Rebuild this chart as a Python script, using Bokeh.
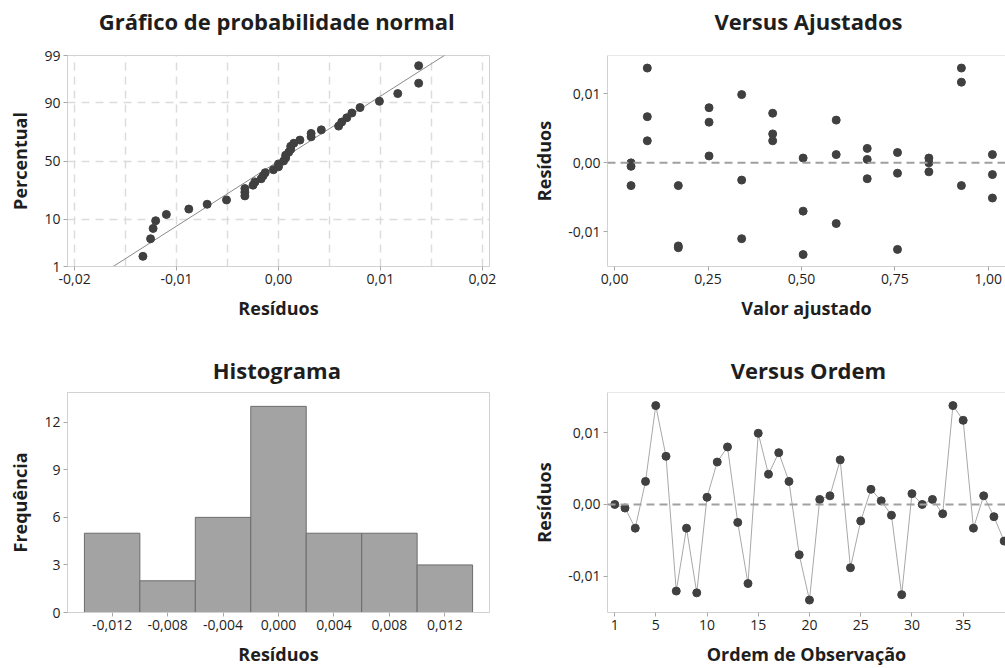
from statistics import NormalDist
import numpy as np
from bokeh.plotting import figure
from bokeh.layouts import gridplot
from bokeh.models import FixedTicker, CustomJSTickFormatter, Span, Range1d
from bokeh.core.properties import value
from bokeh.embed import file_html
from bokeh.resources import INLINE

# ---------------- data ----------------
residuals = [0.0000, -0.0005, -0.0033, 0.0032, 0.01375, 0.0067, -0.01205, -0.0033, -0.0123,
             0.0010, 0.0059, 0.0080, -0.0025, -0.0110, 0.0099, 0.0042, 0.0072, 0.0032,
             -0.0070, -0.0133, 0.0007, 0.0012, 0.0062, -0.0088, -0.0023, 0.0021, 0.0005,
             -0.0015, -0.01255, 0.0015, 0.0000, 0.0007, -0.0013, 0.01375, 0.0117, -0.0033,
             0.0012, -0.0017, -0.0051]
fitted = [0.044, 0.044, 0.044, 0.0875, 0.0875, 0.0875, 0.1705, 0.1705, 0.1705,
          0.2527, 0.2527, 0.2527, 0.340, 0.340, 0.340, 0.423, 0.423, 0.423,
          0.5045, 0.5045, 0.5045, 0.593, 0.593, 0.593, 0.676, 0.676, 0.676,
          0.757, 0.757, 0.757, 0.841, 0.841, 0.841, 0.928, 0.928, 0.928,
          1.011, 1.011, 1.011]
order = list(range(1, 40))
hist_centers = [-0.012, -0.008, -0.004, 0.000, 0.004, 0.008, 0.012]
hist_counts = [5, 2, 6, 13, 5, 5, 3]
prob_ticks = [1, 10, 50, 90, 99]
titles = ["Gráfico de probabilidade normal", "Versus Ajustados", "Histograma", "Versus Ordem"]

FONT = "Open Sans"
TXT = "#1e1e1e"
FRAME = "#d2d2d2"
PT = "#404040"

nd = NormalDist()


def fmt(dec):
    return CustomJSTickFormatter(code="return tick.toFixed(%d).replace('.', ',');" % dec)


def title_fig(text, w, h, cx, cy):
    t = figure(width=w, height=h, x_range=Range1d(0, w), y_range=Range1d(0, h),
               output_backend="svg", toolbar_location=None,
               min_border_left=0, min_border_right=0, min_border_top=0, min_border_bottom=0)
    t.axis.visible = False
    t.grid.visible = False
    t.outline_line_color = None
    t.text(x=[cx], y=[cy], text=[text], text_font=value(FONT), text_font_size=value("22px"),
           text_font_style="bold", text_color=TXT, text_align="center", text_baseline="middle")
    return t


def base(w, h, xr, yr, bl, br, bt, bb, outline=True):
    p = figure(width=w, height=h, x_range=xr, y_range=yr,
               output_backend="svg", toolbar_location=None,
               min_border_left=bl, min_border_right=br, min_border_top=bt, min_border_bottom=bb)
    p.outline_line_color = FRAME if outline else None
    p.background_fill_color = "white"
    p.border_fill_color = "white"
    for ax in (p.xaxis[0], p.yaxis[0]):
        ax.axis_line_color = FRAME
        ax.major_tick_line_color = "#a8a8a8"
        ax.major_tick_out = 4
        ax.major_tick_in = 0
        ax.minor_tick_line_color = None
        ax.major_label_text_font = FONT
        ax.major_label_text_font_size = "14px"
        ax.major_label_text_color = TXT
        ax.axis_label_text_font = FONT
        ax.axis_label_text_font_size = "18px"
        ax.axis_label_text_font_style = "bold"
        ax.axis_label_text_color = TXT
        ax.major_label_standoff = 3
        ax.axis_label_standoff = 9
    p.xgrid.grid_line_color = None
    p.ygrid.grid_line_color = None
    return p


# ---------------- titles ----------------
t1 = title_fig(titles[0], 500, 40, 248, 20)
t2 = title_fig(titles[1], 505, 40, 255, 20)
t3 = title_fig(titles[2], 500, 50, 248, 16)
t4 = title_fig(titles[3], 505, 50, 255, 16)

# ---------------- normal probability plot ----------------
r = np.array(residuals)
n = len(r)
rs = np.sort(r)
pz = [nd.inv_cdf((i - 0.3) / (n + 0.4)) for i in range(1, n + 1)]
mu, sd = r.mean(), r.std(ddof=1)
zlo, zhi = nd.inv_cdf(0.01), nd.inv_cdf(0.99)

p1 = base(500, 295, Range1d(-0.0207, 0.0207), Range1d(zlo, zhi), 67, 11, 15, 69)
p1.xaxis.axis_label = "Resíduos"
p1.yaxis.axis_label = "Percentual"
p1.xaxis.ticker = FixedTicker(ticks=[-0.02, -0.01, 0.0, 0.01, 0.02])
p1.xaxis.formatter = fmt(2)
yt = [nd.inv_cdf(v / 100) for v in prob_ticks]
p1.yaxis.ticker = FixedTicker(ticks=yt)
p1.yaxis.major_label_overrides = {t: str(v) for t, v in zip(yt, prob_ticks)}
p1.xgrid.ticker = FixedTicker(ticks=list(np.round(np.arange(-0.02, 0.0201, 0.005), 4)))
p1.ygrid.ticker = FixedTicker(ticks=yt)
for g in (p1.xgrid[0], p1.ygrid[0]):
    g.grid_line_color = "#dcdcdc"
    g.grid_line_dash = "8 6"
    g.grid_line_width = 1.5
zl = np.array([zlo - 0.3, zhi + 0.3])
p1.line(mu + sd * zl, zl, color="#8a8a8a", line_width=1)
p1.scatter(rs, pz, size=8, color=PT)

# ---------------- versus fits ----------------
yr2 = (-0.01503, 0.01557)
p2 = base(505, 295, Range1d(-0.019, 1.046), Range1d(*yr2), 107, 0, 15, 69, outline=False)
p2.xaxis.axis_label = "Valor ajustado"
p2.yaxis.axis_label = "Resíduos"
p2.xaxis.ticker = FixedTicker(ticks=[0.0, 0.25, 0.5, 0.75, 1.0])
p2.xaxis.formatter = fmt(2)
p2.yaxis.ticker = FixedTicker(ticks=[-0.01, 0.0, 0.01])
p2.yaxis.formatter = fmt(2)
p2.add_layout(Span(location=yr2[1], dimension="width", line_color=FRAME, line_width=1))
p2.add_layout(Span(location=0, dimension="width", line_color="#a0a0a0", line_width=2, line_dash="8 5"))
p2.scatter(fitted, residuals, size=8, color=PT)

# ---------------- histogram ----------------
p3 = base(500, 283, Range1d(-0.01522, 0.01522), Range1d(0, 13.875), 67, 11, 7, 54)
p3.xaxis.axis_label = "Resíduos"
p3.yaxis.axis_label = "Frequência"
p3.xaxis.ticker = FixedTicker(ticks=hist_centers)
p3.xaxis.formatter = fmt(3)
p3.yaxis.ticker = FixedTicker(ticks=[0, 3, 6, 9, 12])
p3.vbar(x=hist_centers, top=hist_counts, bottom=0, width=0.004,
        fill_color="#a3a3a3", line_color="#6c6c6c", line_width=1)

# ---------------- versus order ----------------
p4 = base(505, 283, Range1d(0.29, 39.13), Range1d(*yr2), 107, 0, 7, 54, outline=False)
p4.xaxis.axis_label = "Ordem de Observação"
p4.yaxis.axis_label = "Resíduos"
p4.xaxis.ticker = FixedTicker(ticks=[1, 5, 10, 15, 20, 25, 30, 35, 40])
p4.yaxis.ticker = FixedTicker(ticks=[-0.01, 0.0, 0.01])
p4.yaxis.formatter = fmt(2)
p4.add_layout(Span(location=yr2[1], dimension="width", line_color=FRAME, line_width=1))
p4.add_layout(Span(location=0, dimension="width", line_color="#a0a0a0", line_width=2, line_dash="8 5"))
p4.line(order, residuals, color="#a8a8a8", line_width=1)
p4.scatter(order, residuals, size=8, color=PT)

grid = gridplot([[t1, t2], [p1, p2], [t3, t4], [p3, p4]], toolbar_location=None)
open("out.html", "w").write(file_html(grid, INLINE))
